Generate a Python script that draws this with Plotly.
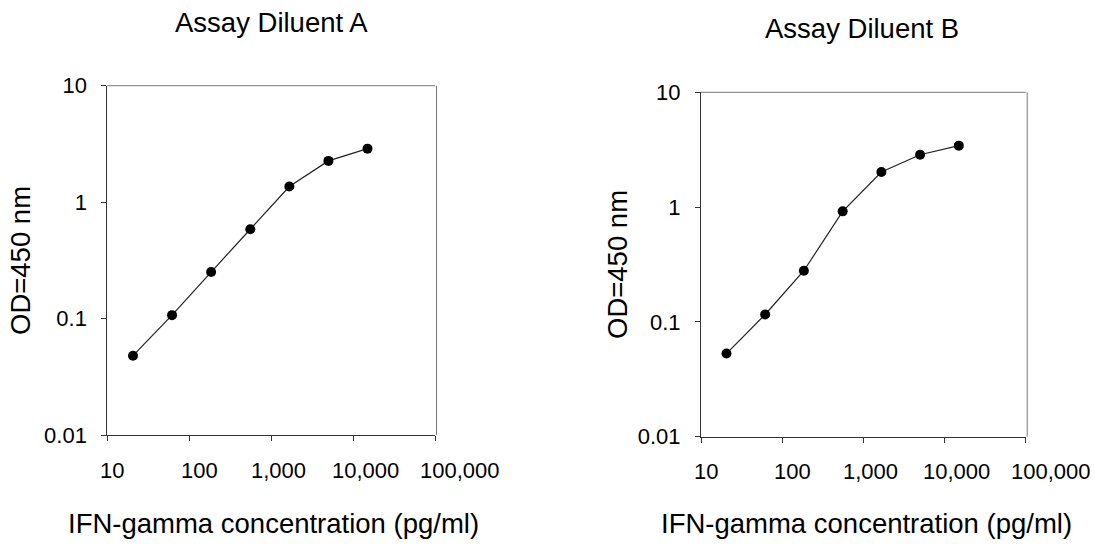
import math
import plotly.graph_objects as go

# Data
conc = [20.6, 61.7, 185, 556, 1667, 5000, 15000]
od_a = [0.048, 0.107, 0.251, 0.585, 1.36, 2.26, 2.88]
od_b = [0.053, 0.116, 0.279, 0.918, 2.02, 2.86, 3.43]
panel_titles = ["Assay Diluent A", "Assay Diluent B"]
x_tickvals = [10, 100, 1000, 10000, 100000]
x_ticktext = ["10", "100", "1,000", "10,000", "100,000"]
y_tickvals = [0.01, 0.1, 1, 10]
y_ticktext = ["0.01", "0.1", "1", "10"]
x_title = "IFN-gamma concentration (pg/ml)"
y_title = "OD=450 nm"

W, H = 1095, 558
FONT = "Liberation Sans, Arial, sans-serif"
# the reference prints its x tick labels slightly right of their ticks
x_label_shift = [5, 10, 7, 12, 25]

def px(x):
    return x / W

def py(y):
    return 1 - y / H

fig = go.Figure()
for i, od in enumerate([od_a, od_b]):
    sfx = "" if i == 0 else "2"
    fig.add_trace(go.Scatter(
        x=conc, y=od, mode="lines+markers",
        xaxis="x" + sfx, yaxis="y" + sfx,
        line=dict(color="#222222", width=1.2),
        marker=dict(color="black", size=10),
        showlegend=False, hoverinfo="skip"))

dom = [
    dict(x0=107.3, x1=435.0, ytop=85.7, ybot=435.0),
    dict(x0=701.0, x1=1025.7, ytop=92.3, ybot=436.7),
]

common_x = dict(type="log", range=[1, 5], tickvals=x_tickvals, ticktext=x_ticktext,
                ticks="outside", ticklen=5, tickcolor="#333333", tickwidth=1,
                showline=True, linecolor="#333333", linewidth=1,
                showgrid=False, zeroline=False, automargin=False,
                showticklabels=False)
common_y = dict(type="log", range=[-2, 1], tickvals=y_tickvals, ticktext=y_ticktext,
                ticks="outside", ticklen=5, tickcolor="#333333", tickwidth=1,
                showline=True, linecolor="#333333", linewidth=1,
                showgrid=False, zeroline=False, automargin=False,
                tickfont=dict(family=FONT, size=22, color="black"),
                ticklabelstandoff=10)

layout = dict(width=W, height=H, margin=dict(l=0, r=0, t=0, b=0, autoexpand=False),
              paper_bgcolor="white", plot_bgcolor="white", showlegend=False)
layout["xaxis"] = dict(common_x, domain=[px(dom[0]["x0"]), px(dom[0]["x1"])], anchor="y")
layout["yaxis"] = dict(common_y, domain=[py(dom[0]["ybot"]), py(dom[0]["ytop"])], anchor="x")
layout["xaxis2"] = dict(common_x, domain=[px(dom[1]["x0"]), px(dom[1]["x1"])], anchor="y2")
layout["yaxis2"] = dict(common_y, domain=[py(dom[1]["ybot"]), py(dom[1]["ytop"])], anchor="x2")
fig.update_layout(**layout)

shapes = []
for d in dom:
    # top and right frame lines (lighter gray)
    shapes.append(dict(type="line", xref="paper", yref="paper",
                       x0=px(d["x0"]), x1=px(d["x1"]), y0=py(d["ytop"]), y1=py(d["ytop"]),
                       line=dict(color="#777777", width=1)))
    shapes.append(dict(type="line", xref="paper", yref="paper",
                       x0=px(d["x1"] + 1.5), x1=px(d["x1"] + 1.5), y0=py(d["ytop"]), y1=py(d["ybot"]),
                       line=dict(color="#777777", width=1)))
fig.update_layout(shapes=shapes)

ann = []
title_pos = [(271.5, 22), (861.5, 28)]
xlab_pos = [(273, 523), (866, 523)]
ylab_pos = [(20, 261), (617, 265)]
for i in range(2):
    sfx = "" if i == 0 else "2"
    ann.append(dict(text=panel_titles[i], x=px(title_pos[i][0]), y=py(title_pos[i][1]),
                    xref="paper", yref="paper", showarrow=False,
                    xanchor="center", yanchor="middle",
                    font=dict(family=FONT, size=27.5, color="black")))
    ann.append(dict(text=x_title, x=px(xlab_pos[i][0]), y=py(xlab_pos[i][1]),
                    xref="paper", yref="paper", showarrow=False,
                    xanchor="center", yanchor="middle",
                    font=dict(family=FONT, size=27.5, color="black")))
    ann.append(dict(text=y_title, x=px(ylab_pos[i][0]), y=py(ylab_pos[i][1]),
                    xref="paper", yref="paper", showarrow=False, textangle=-90,
                    xanchor="center", yanchor="middle",
                    font=dict(family=FONT, size=27.5, color="black")))
    # x tick labels (log axis: annotation x is given as the exponent)
    for tv, tt, sh in zip(x_tickvals, x_ticktext, x_label_shift):
        ann.append(dict(text=tt, x=math.log10(tv), xref="x" + sfx,
                        y=py(dom[i]["ybot"] + 35), yref="paper",
                        showarrow=False, xanchor="center", yanchor="middle",
                        xshift=sh,
                        font=dict(family=FONT, size=22, color="black")))
fig.update_layout(annotations=ann)

fig.write_html("out.html", config={"displayModeBar": False},
               post_script="document.body.style.margin='0px';")
